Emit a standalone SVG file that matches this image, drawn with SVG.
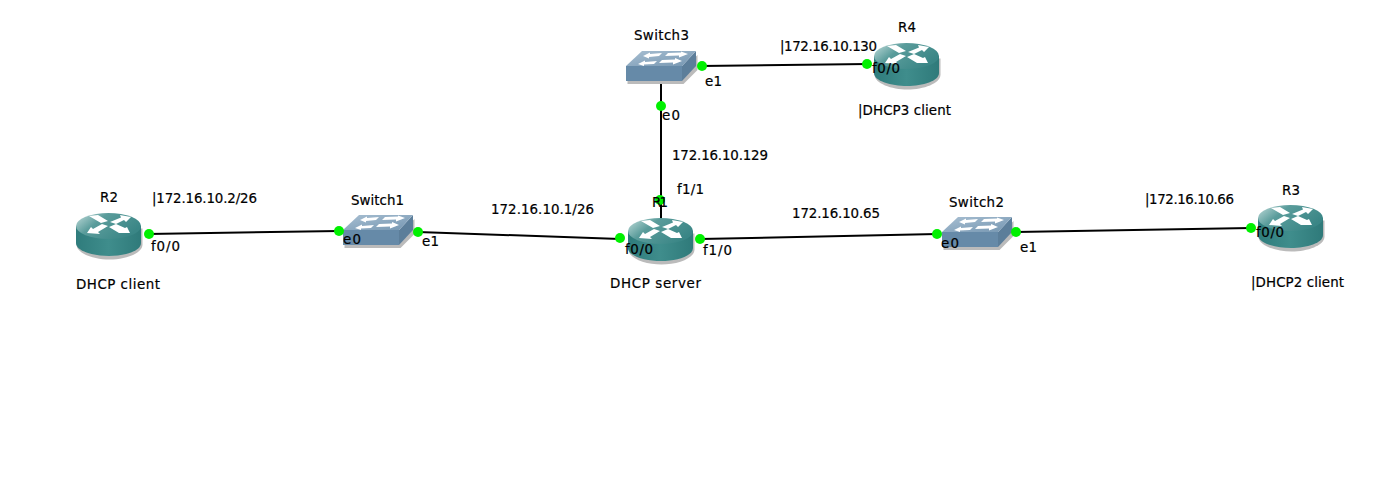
<svg xmlns="http://www.w3.org/2000/svg" xmlns:xlink="http://www.w3.org/1999/xlink" width="1396" height="485" viewBox="0 0 1396 485">
<style>
text{font-family:"DejaVu Sans","Liberation Sans",sans-serif;font-size:13.4px;fill:#000;stroke:#000;stroke-width:.2}
.l{stroke:#000;stroke-width:2;fill:none}
.d{fill:#00f000}
</style>
<defs>
<linearGradient id="top" x1="0" y1="0" x2="1" y2="0.5"><stop offset="0" stop-color="#c4dedc"/><stop offset=".4" stop-color="#5a9c9b"/><stop offset="1" stop-color="#3a8686"/></linearGradient>
<linearGradient id="side" x1="0" y1="0" x2="1" y2="0"><stop offset="0" stop-color="#2f7c7c"/><stop offset=".5" stop-color="#3f8d8c"/><stop offset="1" stop-color="#2f7a7a"/></linearGradient>
<linearGradient id="sw" x1="0" y1="0" x2="1" y2="1"><stop offset="0" stop-color="#a8bfd2"/><stop offset="1" stop-color="#7596b1"/></linearGradient>
<g id="router">
<path d="M-32 1 V17 C-32 26 -15 32 1 32 C17 32 34 26 34 17 V1 Z" fill="#bbb" transform="translate(0.5,1.5)"/>
<path d="M-32 0 V17 C-32 25 -15 30 1 30 C17 30 33 25 33 17 V0 Z" fill="url(#side)"/>
<ellipse cx="0.5" cy="0" rx="32.5" ry="13" fill="url(#top)"/>
<path d="M-19 -10 L-10 -11 L0 -5 L-7 -3 Z M23 -9 L12 -11 L13 -8.500 L2 -4 L8 -2 L16 -6 L18 -4 Z M-21 7 L-17 1 L-15 3 L-6 -2 L0 0 L-10 6 L-8 8 Z M22 7 L11 7 L1 1 L8 -2 L17 2 L19 1 Z" fill="#fff"/>
</g>
<g id="switch">
<path d="M0 16 H56 L70 2 V17 L56 31 H0 Z" fill="#bbb" transform="translate(1.500,2)"/>
<path d="M0 15 H56 V30 H0 Z" fill="#668aa8"/>
<path d="M56 15 L70 0 V15 L56 30 Z" fill="#5c7e9a"/>
<path d="M16 0 H70 L56 15 H0 Z" fill="url(#sw)"/>
<path d="M17 5 L24 1.500 V3 L36 2 L33 5 L23 6 V7.500 Z M62 3 L55 0.500 V1.500 L42 2 L39 5 L53 4.500 V6.500 Z M12 13 L19 9.500 V11 L31 10 L28 13 L18 13.500 V15 Z M56 10 L49 7 V8.500 L36 9 L33 12 L47 11.500 V13.500 Z" fill="#fff"/>
</g>
</defs>
<rect width="1396" height="485" fill="#fff"/>
<g id="connectors">
<path class="l" d="M148 234 L339 231"/>
<path class="l" d="M418 232 L620 239"/>
<path class="l" d="M700 239 L937 234"/>
<path class="l" d="M1016 232 L1251 228"/>
<path class="l" d="M661 80 V225"/>
<path class="l" d="M701 66 L868 64"/>
<circle class="d" cx="661" cy="106" r="5"/><circle class="d" cx="660" cy="200" r="5"/>
</g>
<g id="R2"><use href="#router" xlink:href="#router" x="108" y="226"/></g>
<g id="Switch1"><use href="#switch" xlink:href="#switch" x="343" y="215"/></g>
<g id="R1"><use href="#router" xlink:href="#router" x="660" y="231"/></g>
<g id="Switch2"><use href="#switch" xlink:href="#switch" x="942" y="217"/></g>
<g id="R3"><use href="#router" xlink:href="#router" x="1290" y="218"/></g>
<g id="Switch3"><use href="#switch" xlink:href="#switch" x="626" y="51"/></g>
<g id="R4"><use href="#router" xlink:href="#router" x="906" y="56"/></g>
<g id="ports">
<circle class="d" cx="149" cy="234" r="5"/><circle class="d" cx="339" cy="231" r="5"/>
<circle class="d" cx="418" cy="232" r="5"/><circle class="d" cx="620" cy="238" r="5"/>
<circle class="d" cx="700" cy="239" r="5"/><circle class="d" cx="937" cy="234" r="5"/>
<circle class="d" cx="1016" cy="232" r="5"/><circle class="d" cx="1251" cy="228" r="5"/>
<circle class="d" cx="702" cy="66" r="5"/><circle class="d" cx="867" cy="64" r="5"/>
</g>
<g id="labels">
<text x="100" y="202" textLength="18">R2</text><text x="76" y="289" textLength="84">DHCP client</text>
<text x="351" y="205" textLength="53">Switch1</text>
<text x="652" y="207" textLength="16">R1</text><text x="610" y="288" textLength="91">DHCP server</text>
<text x="949" y="207" textLength="55">Switch2</text>
<text x="1282" y="195" textLength="18">R3</text><text x="1251" y="287" textLength="93">|DHCP2 client</text>
<text x="634" y="40" textLength="55">Switch3</text>
<text x="898" y="32" textLength="18">R4</text><text x="858" y="115" textLength="93">|DHCP3 client</text>
<text x="152" y="203" textLength="105">|172.16.10.2/26</text>
<text x="151" y="251" textLength="29">f0/0</text>
<text x="343" y="244" textLength="18">e0</text>
<text x="422" y="246" textLength="17">e1</text>
<text x="491" y="214" textLength="103">172.16.10.1/26</text>
<text x="625" y="254" textLength="28">f0/0</text>
<text x="703" y="255" textLength="29">f1/0</text>
<text x="792" y="218" textLength="88">172.16.10.65</text>
<text x="941" y="248" textLength="18">e0</text>
<text x="1020" y="252" textLength="17">e1</text>
<text x="1145" y="204" textLength="89">|172.16.10.66</text>
<text x="1256" y="237" textLength="28">f0/0</text>
<text x="705" y="86" textLength="17">e1</text>
<text x="662" y="120" textLength="18">e0</text>
<text x="672" y="160" textLength="96">172.16.10.129</text>
<text x="677" y="194" textLength="27">f1/1</text>
<text x="780" y="51" textLength="97">|172.16.10.130</text>
<text x="872" y="73" textLength="28">f0/0</text>
</g>
</svg>
